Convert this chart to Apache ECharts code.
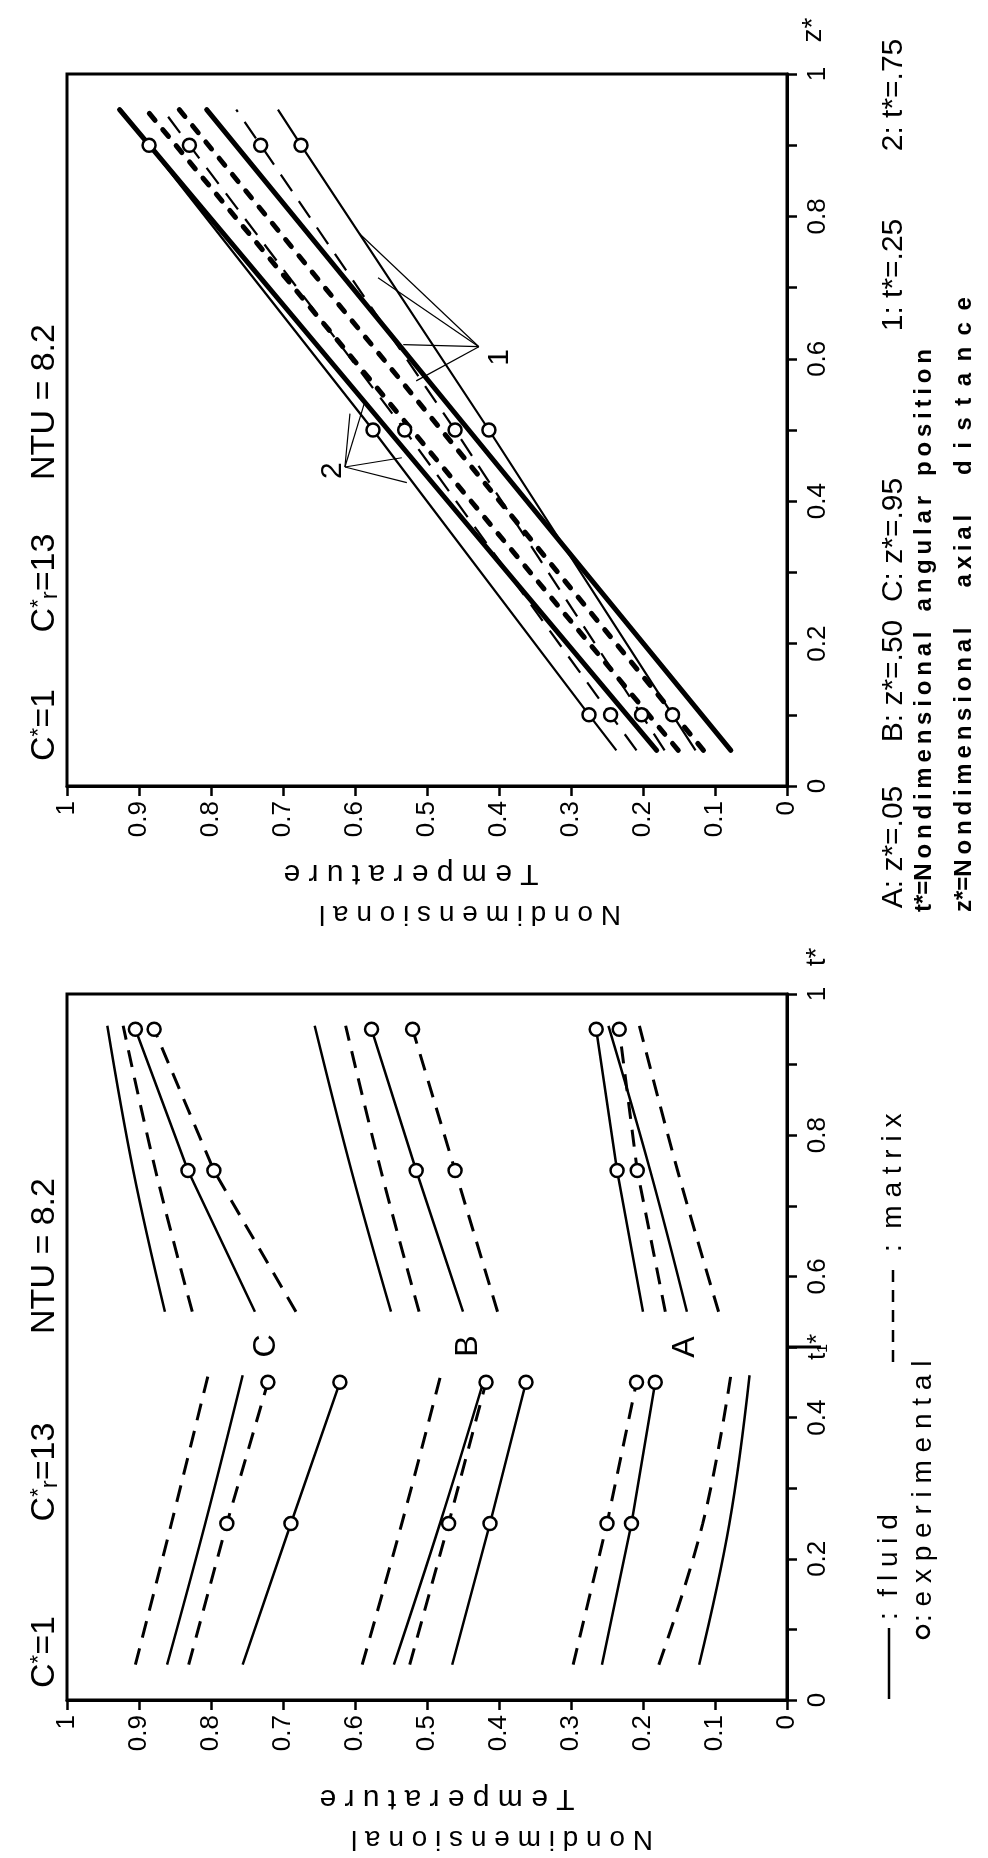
<!DOCTYPE html>
<html>
<head>
<meta charset="utf-8">
<script src="https://cdn.jsdelivr.net/npm/echarts@6/dist/echarts.min.js"></script>
<style>
html, body { margin: 0; padding: 0; background: #fff; }
#main { width: 988px; height: 1858px; }
</style>
</head>
<body>
<div id="main"></div>
<script>
var FONT = '"Liberation Sans", Arial, sans-serif';

// tick labels
var tempTickLabels = ['0', '0.1', '0.2', '0.3', '0.4', '0.5', '0.6', '0.7', '0.8', '0.9', '1'];
var zTickLabels = ['0', '', '0.2', '', '0.4', '', '0.6', '', '0.8', '', '1'];
var tTickLabels = ['0', '', '0.2', '', '0.4', 't\u2081*', '0.6', '', '0.8', '', '1'];

// top panel: temperature along z*  (2: t*=.75, 1: t*=.25)
var zTheory = [0.05, 0.5, 0.95];
var fluidTheory75 = [0.181, 0.554, 0.927];
var matrixTheory75 = [0.151, 0.521, 0.890];
var matrixTheory25 = [0.116, 0.480, 0.844];
var fluidTheory25 = [0.078, 0.442, 0.806];
var zExp = [0.05, 0.1, 0.5, 0.9, 0.95];
var zCircles = [0.1, 0.5, 0.9];
var expFluid75 = [0.237, 0.275, 0.575, 0.886, 0.925];
var expMatrix75 = [0.209, 0.245, 0.531, 0.830, 0.867];
var expMatrix25 = [0.170, 0.202, 0.461, 0.731, 0.765];
var expFluid25 = [0.127, 0.159, 0.414, 0.675, 0.707];

// bottom panel: temperature along t*  (A: z*=.05, B: z*=.50, C: z*=.95)
var tPeriod1 = [0.05, 0.25, 0.46];
var tPeriod1Exp = [0.05, 0.25, 0.45];
var tPeriod2 = [0.55, 0.75, 0.955];
var tPeriod2Exp = [0.55, 0.75, 0.95];
var tCircles = [0.25, 0.45, 0.75, 0.95];

var p1MatrixTheoryA = [0.178, 0.117, 0.078];
var p1FluidTheoryA = [0.122, 0.080, 0.052];
var p1MatrixExpA = [0.297, 0.250, 0.209];
var p1FluidExpA = [0.257, 0.216, 0.183];
var p2FluidTheoryA = [0.139, 0.190, 0.248];
var p2MatrixTheoryA = [0.095, 0.152, 0.205];
var p2FluidExpA = [0.200, 0.236, 0.265];
var p2MatrixExpA = [0.169, 0.208, 0.233];

var p1MatrixTheoryB = [0.590, 0.535, 0.481];
var p1FluidTheoryB = [0.546, 0.482, 0.419];
var p1MatrixExpB = [0.524, 0.470, 0.418];
var p1FluidExpB = [0.465, 0.4125, 0.3625];
var p2FluidTheoryB = [0.550, 0.605, 0.656];
var p2MatrixTheoryB = [0.511, 0.564, 0.613];
var p2FluidExpB = [0.450, 0.515, 0.577];
var p2MatrixExpB = [0.402, 0.461, 0.520];

var p1MatrixTheoryC = [0.905, 0.855, 0.804];
var p1FluidTheoryC = [0.861, 0.808, 0.756];
var p1MatrixExpC = [0.831, 0.778, 0.721];
var p1FluidExpC = [0.756, 0.689, 0.621];
var p2FluidTheoryC = [0.864, 0.908, 0.944];
var p2MatrixTheoryC = [0.826, 0.877, 0.922];
var p2FluidExpC = [0.739, 0.832, 0.905];
var p2MatrixExpC = [0.682, 0.796, 0.879];

// leader lines of the "1" / "2" notes, in [temperature, z*]
var note2At = [0.631, 0.443];
var note2From = [0.614, 0.448];
var note2To = [[0.607, 0.523], [0.586, 0.541], [0.535, 0.461], [0.528, 0.426]];
var note1At = [0.399, 0.602];
var note1From = [0.428, 0.617];
var note1To = [[0.594, 0.776], [0.568, 0.714], [0.533, 0.620], [0.515, 0.569]];

var styles = {
  thickSolid: { width: 5, type: 'solid', cap: 'round' },
  thickDash: { width: 5, type: [9, 12], cap: 'round' },
  thinSolid: { width: 2.2, type: 'solid' },
  thinDash: { width: 2.2, type: [20, 12] },
  solid: { width: 2.5, type: 'solid' },
  dash: { width: 3, type: [17, 11] }
};

function curve(grid, pos, temps, st, circles, smooth) {
  var data = pos.map(function (p, i) {
    var item = { value: [temps[i], p] };
    if (!circles || circles.indexOf(p) < 0) item.symbol = 'none';
    return item;
  });
  return {
    type: 'line', xAxisIndex: grid, yAxisIndex: grid, data: data,
    symbol: 'circle', symbolSize: 13, showSymbol: !!circles,
    smooth: smooth ? 0.4 : false,
    lineStyle: { color: '#000', width: st.width, type: st.type, cap: st.cap || 'butt' },
    itemStyle: { color: '#fff', borderColor: '#000', borderWidth: 2.5 },
    silent: true, z: circles ? 4 : 3
  };
}

function tempAxis(grid) {
  return {
    gridIndex: grid, type: 'value', min: 0, max: 1, interval: 0.1, inverse: true, position: 'bottom',
    axisLine: { show: true, onZero: false, lineStyle: { color: '#000', width: 3 } },
    axisTick: { show: true, length: 10, lineStyle: { color: '#000', width: 2.5 } },
    axisLabel: {
      rotate: 90, margin: 15, color: '#000', fontSize: 26, fontFamily: FONT,
      showMinLabel: true, showMaxLabel: true,
      formatter: function (v) { return tempTickLabels[Math.round(v * 10)]; }
    },
    splitLine: { show: false }
  };
}

function sideAxis(grid, labels) {
  return {
    gridIndex: grid, type: 'value', min: 0, max: 1, interval: 0.1, position: 'right',
    axisLine: { show: true, onZero: false, lineStyle: { color: '#000', width: 3 } },
    axisTick: { show: true, length: 10, lineStyle: { color: '#000', width: 2.5 } },
    axisLabel: {
      rotate: 90, margin: 18, color: '#000', fontSize: 26, fontFamily: FONT,
      showMinLabel: true, showMaxLabel: true,
      formatter: function (v) { return labels[Math.round(v * 10)]; }
    },
    splitLine: { show: false }
  };
}

var series = [
  curve(0, zTheory, fluidTheory75, styles.thickSolid),
  curve(0, zTheory, matrixTheory75, styles.thickDash),
  curve(0, zTheory, matrixTheory25, styles.thickDash),
  curve(0, zTheory, fluidTheory25, styles.thickSolid),
  curve(0, zExp, expFluid75, styles.thinSolid, zCircles),
  curve(0, zExp, expMatrix75, styles.thinDash, zCircles),
  curve(0, zExp, expMatrix25, styles.thinDash, zCircles),
  curve(0, zExp, expFluid25, styles.thinSolid, zCircles)
];

[
  [p1MatrixTheoryA, p1FluidTheoryA, p1MatrixExpA, p1FluidExpA, p2FluidTheoryA, p2MatrixTheoryA, p2FluidExpA, p2MatrixExpA],
  [p1MatrixTheoryB, p1FluidTheoryB, p1MatrixExpB, p1FluidExpB, p2FluidTheoryB, p2MatrixTheoryB, p2FluidExpB, p2MatrixExpB],
  [p1MatrixTheoryC, p1FluidTheoryC, p1MatrixExpC, p1FluidExpC, p2FluidTheoryC, p2MatrixTheoryC, p2FluidExpC, p2MatrixExpC]
].forEach(function (g) {
  series.push(curve(1, tPeriod1, g[0], styles.dash, null, true));
  series.push(curve(1, tPeriod1, g[1], styles.solid, null, true));
  series.push(curve(1, tPeriod1Exp, g[2], styles.dash, tCircles));
  series.push(curve(1, tPeriod1Exp, g[3], styles.solid, tCircles));
  series.push(curve(1, tPeriod2, g[4], styles.solid, null, true));
  series.push(curve(1, tPeriod2, g[5], styles.dash, null, true));
  series.push(curve(1, tPeriod2Exp, g[6], styles.solid, tCircles));
  series.push(curve(1, tPeriod2Exp, g[7], styles.dash, tCircles));
});

var chart = echarts.init(document.getElementById('main'));
chart.setOption({
  animation: false,
  backgroundColor: '#fff',
  grid: [
    { left: 67, top: 74, width: 720, height: 712, show: true, borderColor: '#000', borderWidth: 3 },
    { left: 67, top: 994, width: 720, height: 706, show: true, borderColor: '#000', borderWidth: 3 }
  ],
  xAxis: [tempAxis(0), tempAxis(1)],
  yAxis: [sideAxis(0, zTickLabels), sideAxis(1, tTickLabels)],
  series: series
});

function px(grid, p) { return chart.convertToPixel({ gridIndex: grid }, p); }

function rotText(x, y, text, font, align, rot, rich) {
  var st = { text: text, font: font, fill: '#000', align: align || 'center', verticalAlign: 'middle' };
  if (rich) st.rich = rich;
  return { type: 'text', x: x, y: y, rotation: rot === undefined ? Math.PI / 2 : rot, style: st, silent: true };
}
function spaced(s, sep) { return s.split('').join(sep || ' '); }

var big = '34px ' + FONT;
var key = '30px ' + FONT;
var titleRich = {
  sup: { font: '22px ' + FONT, verticalAlign: 'top' },
  sub: { font: '24px ' + FONT, verticalAlign: 'bottom' }
};

var graphics = [];
[[725, 583, 402], [1652, 1472, 1256]].forEach(function (ys) {
  graphics.push(rotText(45, ys[0], 'C{sup|*}=1', big, 'center', Math.PI / 2, titleRich));
  graphics.push(rotText(45, ys[1], 'C{sup|*}{sub|r}=13', big, 'center', Math.PI / 2, titleRich));
  graphics.push(rotText(45, ys[2], 'NTU = 8.2', big));
});

// y titles (upside down)
graphics.push(rotText(411, 873, spaced('Temperature'), '30px ' + FONT, 'center', Math.PI));
graphics.push(rotText(470, 914, spaced('Nondimensional'), '28px ' + FONT, 'center', Math.PI));
graphics.push(rotText(447, 1798, spaced('Temperature'), '30px ' + FONT, 'center', Math.PI));
graphics.push(rotText(502, 1839, spaced('Nondimensional'), '28px ' + FONT, 'center', Math.PI));

// axis names
graphics.push(rotText(813, 30, 'z*', '28px ' + FONT));
graphics.push(rotText(817, 957, 't*', '28px ' + FONT));

// top panel key
graphics.push(rotText(894, 847, 'A: z*=.05', key));
graphics.push(rotText(894, 681, 'B: z*=.50', key));
graphics.push(rotText(894, 540, 'C: z*=.95', key));
graphics.push(rotText(894, 275, '1: t*=.25', key));
graphics.push(rotText(894, 95, '2: t*=.75', key));
var th = '\u2009';
graphics.push(rotText(924, 912, 't*=' + spaced('Nondimensional', th) + '   ' + spaced('angular', th) + '   ' + spaced('position', th), 'bold 24px ' + FONT, 'left'));
graphics.push(rotText(964, 912, 'z*=' + spaced('Nondimensional', th) + '      ' + spaced('axial', th) + '      ' + spaced('distance', ' ' + th), 'bold 24px ' + FONT, 'left'));

// bottom panel A/B/C
graphics.push(rotText(266, 1346, 'C', '32px ' + FONT));
graphics.push(rotText(468, 1346, 'B', '32px ' + FONT));
graphics.push(rotText(685, 1347, 'A', '32px ' + FONT));

// bottom legend
graphics.push({ type: 'line', shape: { x1: 889, y1: 1699, x2: 889, y2: 1628 }, style: { stroke: '#000', lineWidth: 2.5 }, silent: true });
graphics.push(rotText(889, 1620, ':  ' + spaced('fluid'), '28px ' + FONT, 'left'));
graphics.push({ type: 'circle', shape: { cx: 923, cy: 1632, r: 6 }, style: { fill: '#fff', stroke: '#000', lineWidth: 2.5 }, silent: true });
graphics.push(rotText(923, 1622, ': ' + spaced('experimental'), '28px ' + FONT, 'left'));
graphics.push({ type: 'line', shape: { x1: 893, y1: 1362, x2: 893, y2: 1262 }, style: { stroke: '#000', lineWidth: 2.5, lineDash: [12, 8] }, silent: true });
graphics.push(rotText(893, 1252, ':  ' + spaced('matrix'), '28px ' + FONT, 'left'));

// long tick at t1*
var pt = px(1, [0, 0.5]);
graphics.push({ type: 'line', shape: { x1: pt[0], y1: pt[1], x2: pt[0] + 34, y2: pt[1] }, style: { stroke: '#000', lineWidth: 3 }, silent: true });

// notes 1 and 2 with leaders
function leaders(from, tos) {
  var a = px(0, from);
  tos.forEach(function (t) {
    var b = px(0, t);
    graphics.push({ type: 'line', shape: { x1: a[0], y1: a[1], x2: b[0], y2: b[1] }, style: { stroke: '#000', lineWidth: 1.2 }, silent: true });
  });
}
leaders(note2From, note2To);
leaders(note1From, note1To);
var n2 = px(0, note2At), n1 = px(0, note1At);
graphics.push(rotText(n2[0], n2[1], '2', '30px ' + FONT));
graphics.push(rotText(n1[0], n1[1], '1', '30px ' + FONT));

chart.setOption({ graphic: graphics });
</script>
</body>
</html>
